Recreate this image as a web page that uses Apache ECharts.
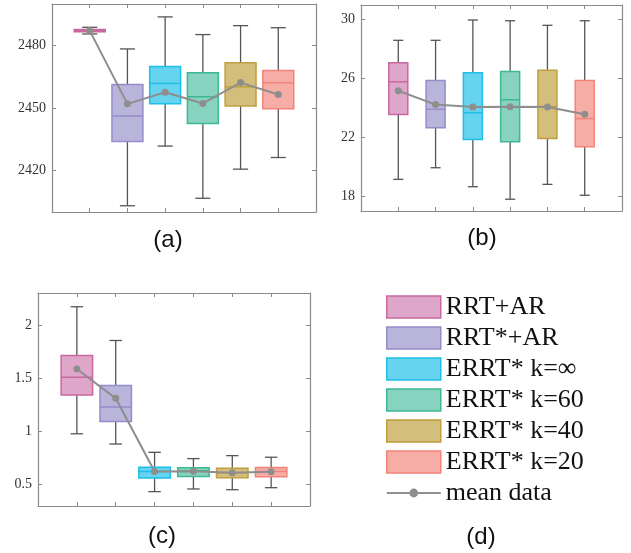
<!DOCTYPE html>
<html>
<head>
<meta charset="utf-8">
<script src="https://cdn.jsdelivr.net/npm/echarts@6/dist/echarts.min.js"></script>
<style>html,body{margin:0;padding:0;background:#fff;}#c{width:631px;height:553px;}</style>
</head>
<body>
<div id="c"></div>
<script>
const methods = ['RRT+AR', 'RRT*+AR', 'ERRT* k=\u221E', 'ERRT* k=60', 'ERRT* k=40', 'ERRT* k=20'];
const meanName = 'mean data';
// [whisker low, Q1, median, Q3, whisker high]
const statsA = [
  [2485.6, 2486.6, 2487.2, 2487.8, 2488.8],
  [2403.0, 2433.9, 2446.2, 2461.3, 2478.4],
  [2431.7, 2452.0, 2461.8, 2469.9, 2493.8],
  [2406.6, 2442.6, 2455.4, 2467.0, 2485.3],
  [2420.6, 2451.0, 2460.2, 2471.7, 2489.6],
  [2426.2, 2449.6, 2462.1, 2468.0, 2488.6]
];
const meanA = [2487.2, 2452.0, 2457.6, 2452.2, 2462.2, 2456.5];
const statsB = [
  [19.15, 23.55, 25.78, 27.07, 28.60],
  [19.94, 22.65, 23.91, 25.87, 28.60],
  [18.65, 21.86, 23.68, 26.39, 29.98],
  [17.80, 21.70, 24.56, 26.48, 29.93],
  [18.81, 21.92, 24.10, 26.57, 29.62],
  [18.07, 21.36, 23.28, 25.87, 29.93]
];
const meanB = [25.17, 24.23, 24.07, 24.09, 24.07, 23.57];
const statsC = [
  [0.978, 1.342, 1.509, 1.714, 2.171],
  [0.882, 1.093, 1.230, 1.432, 1.854],
  [0.435, 0.562, 0.624, 0.665, 0.804],
  [0.460, 0.578, 0.630, 0.658, 0.745],
  [0.453, 0.565, 0.612, 0.655, 0.773],
  [0.472, 0.575, 0.624, 0.661, 0.758]
];
const meanC = [1.587, 1.311, 0.624, 0.627, 0.612, 0.621];
const ticksA = [2420, 2450, 2480];
const ticksB = [18, 22, 26, 30];
const ticksC = [0.5, 1, 1.5, 2];
const panelLabels = ['(a)', '(b)', '(c)', '(d)'];

const fills = ['#DEA7CA', '#B9B5DA', '#66D3EF', '#87D3BF', '#D4BE7C', '#F6ADA6'];
const borders = ['#C9679F', '#958CCA', '#1EBFE8', '#3EB892', '#BF9F3E', '#F2837A'];
const meanColor = '#8e8e8e';

const panels = [
  {stats: statsA, mean: meanA, ticks: ticksA, min: 2400, max: 2500,
   grid: {left: 52, top: 4, width: 264, height: 208}, boxFrac: 0.82, capFrac: 0.40},
  {stats: statsB, mean: meanB, ticks: ticksB, min: 17, max: 31,
   grid: {left: 361, top: 5, width: 261, height: 206}, boxFrac: 0.51, capFrac: 0.27},
  {stats: statsC, mean: meanC, ticks: ticksC, min: 0.3, max: 2.3,
   grid: {left: 38, top: 293, width: 272, height: 213}, boxFrac: 0.81, capFrac: 0.32}
];

const axisColor = '#8a8a8a';
const grids = [], xAxes = [], yAxes = [], series = [];

panels.forEach(function (p, pi) {
  grids.push(Object.assign({}, p.grid));
  ['bottom', 'top'].forEach(function (pos) {
    xAxes.push({
      type: 'value', gridIndex: pi, position: pos, min: 0, max: 7, interval: 1,
      axisLine: {show: true, onZero: false, lineStyle: {color: axisColor, width: 1.2}},
      axisTick: {show: true, inside: true, length: 4, lineStyle: {color: axisColor}},
      axisLabel: {show: false}, splitLine: {show: false}
    });
  });
  ['left', 'right'].forEach(function (pos) {
    yAxes.push({
      type: 'value', gridIndex: pi, position: pos, min: p.min, max: p.max,
      axisLine: {show: true, onZero: false, lineStyle: {color: axisColor, width: 1.2}},
      axisTick: {show: true, inside: true, length: 4, lineStyle: {color: axisColor}, customValues: p.ticks},
      axisLabel: {show: pos === 'left', customValues: p.ticks, margin: 6,
        formatter: function (v) { return String(v); },
        fontFamily: 'Liberation Serif', fontSize: 14, color: '#333'},
      splitLine: {show: false}
    });
  });
  const boxFrac = p.boxFrac, capFrac = p.capFrac;
  const renderItem = function (params, api) {
    const x = api.value(0);
    const lo = api.coord([x, api.value(1)]);
    const q1 = api.coord([x, api.value(2)]);
    const md = api.coord([x, api.value(3)]);
    const q3 = api.coord([x, api.value(4)]);
    const hi = api.coord([x, api.value(5)]);
    const unit = api.size([1, 0])[0];
    const bw = unit * boxFrac, cw = unit * capFrac;
    const cx = lo[0];
    const i = x - 1;
    const wStyle = {stroke: '#555555', lineWidth: 1.3};
    return {
      type: 'group',
      children: [
        {type: 'line', shape: {x1: cx, y1: lo[1], x2: cx, y2: q1[1]}, style: wStyle},
        {type: 'line', shape: {x1: cx, y1: q3[1], x2: cx, y2: hi[1]}, style: wStyle},
        {type: 'line', shape: {x1: cx - cw / 2, y1: lo[1], x2: cx + cw / 2, y2: lo[1]}, style: wStyle},
        {type: 'line', shape: {x1: cx - cw / 2, y1: hi[1], x2: cx + cw / 2, y2: hi[1]}, style: wStyle},
        {type: 'rect', shape: {x: cx - bw / 2, y: q3[1], width: bw, height: Math.max(q1[1] - q3[1], 1)},
          style: {fill: fills[i], stroke: borders[i], lineWidth: 1.5}},
        {type: 'line', shape: {x1: cx - bw / 2, y1: md[1], x2: cx + bw / 2, y2: md[1]},
          style: {stroke: borders[i], lineWidth: 1.5}}
      ]
    };
  };
  p.stats.forEach(function (s, i) {
    series.push({
      name: methods[i], type: 'custom', xAxisIndex: 2 * pi, yAxisIndex: 2 * pi,
      itemStyle: {color: fills[i], borderColor: borders[i], borderWidth: 1.5},
      encode: {x: 0, y: [1, 2, 3, 4, 5]},
      data: [[i + 1].concat(s)], renderItem: renderItem, z: 2, silent: true
    });
  });
  series.push({
    name: meanName, type: 'line', xAxisIndex: 2 * pi, yAxisIndex: 2 * pi,
    data: p.mean.map(function (m, i) { return [i + 1, m]; }),
    symbol: 'circle', symbolSize: 7, showSymbol: true,
    lineStyle: {color: meanColor, width: 2}, itemStyle: {color: meanColor},
    z: 5, silent: true, animation: false
  });
});

const labelPos = [[168, 240], [482, 238], [162, 536], [481, 537]];

// legend icon for the mean line: a 2px line with a dot, in a 54x22 box
const meanIcon = 'path://M0,0 M54,22 M0,10 L22.6,10 L22.6,12 L0,12 Z M31.4,10 L54,10 L54,12 L31.4,12 Z ' +
  'M22.6,11 A4.4,4.4 0 1 1 31.4,11 A4.4,4.4 0 1 1 22.6,11 Z';

const option = {
  animation: false,
  backgroundColor: '#ffffff',
  grid: grids,
  xAxis: xAxes,
  yAxis: yAxes,
  legend: {
    left: 386, top: 294, orient: 'vertical', padding: 0,
    itemWidth: 54, itemHeight: 22, itemGap: 5, selectedMode: false,
    textStyle: {fontFamily: 'Liberation Serif', fontSize: 26, color: '#111'},
    data: methods.map(function (m, i) {
      return {name: m, icon: 'rect', itemStyle: {color: fills[i], borderColor: borders[i], borderWidth: 1.5}};
    }).concat([{name: meanName, icon: meanIcon, itemStyle: {color: meanColor, borderWidth: 0}}])
  },
  graphic: panelLabels.map(function (t, i) {
    return {type: 'text', x: labelPos[i][0], y: labelPos[i][1],
      style: {text: t, fontFamily: 'Liberation Sans', fontSize: 24, fill: '#111',
        textAlign: 'center', textVerticalAlign: 'middle'}};
  }),
  series: series
};

const chart = echarts.init(document.getElementById('c'), null, {renderer: 'canvas'});
chart.setOption(option);
</script>
</body>
</html>
